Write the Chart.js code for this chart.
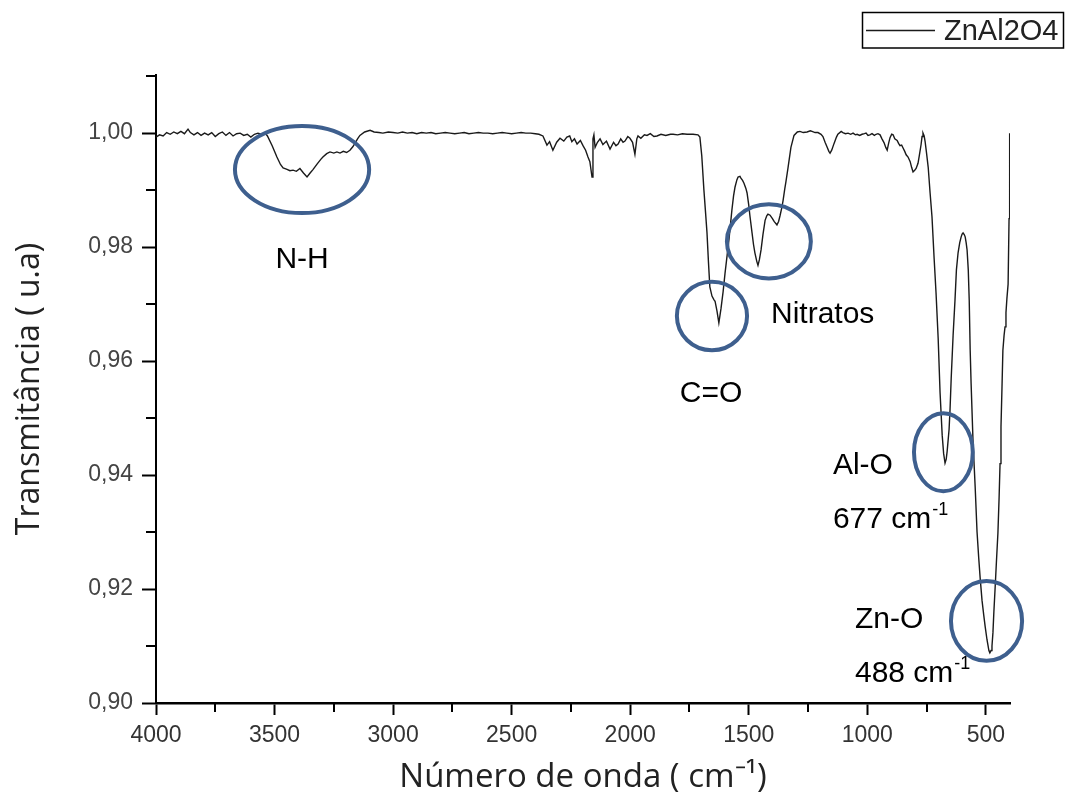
<!DOCTYPE html>
<html>
<head>
<meta charset="utf-8">
<script src="https://cdn.jsdelivr.net/npm/chart.js@4.4.1/dist/chart.umd.min.js"></script>
<style>
  html, body { margin: 0; padding: 0; background: #fff; }
  #wrap { width: 1068px; height: 798px; }
</style>
</head>
<body>
<div id="wrap"><canvas id="ftir" width="1068" height="798"></canvas></div>
<script>
// DATA
const seriesLabel = "ZnAl2O4";

const wavenumbers = [
  // baseline 4000-3540
  4000, 3985, 3970, 3955, 3940, 3925, 3910, 3895, 3880, 3865, 3855, 3840, 3825, 3810, 3795, 3780,
  3765, 3750, 3735, 3720, 3705, 3690, 3675, 3660, 3645, 3630, 3615, 3600, 3585, 3570, 3555, 3540,
  // N-H band
  3530, 3510, 3490, 3475, 3464, 3450, 3435, 3422, 3408, 3393, 3378, 3363, 3350, 3338, 3320, 3305,
  3296, 3280, 3266, 3250, 3237, 3224, 3210, 3196, 3182, 3170, 3161, 3150, 3140, 3120, 3097, 3080,
  3060, 3043,
  // flat region
  3020, 3000, 2980, 2960, 2940, 2920, 2900, 2880, 2860, 2840, 2820, 2800, 2780, 2760, 2740, 2720,
  2700, 2680, 2660, 2640, 2620, 2600, 2580, 2560, 2540, 2520, 2500, 2480, 2460, 2440, 2420, 2400,
  // CO2 / noise region
  2385, 2368, 2351, 2340, 2326, 2310, 2296, 2280, 2267, 2255, 2246, 2235, 2224, 2210, 2199, 2188,
  2178, 2170, 2161, 2157, 2153, 2148, 2138, 2127, 2115, 2100, 2085, 2070, 2060, 2051, 2040, 2030,
  2022, 2010, 2001, 1990, 1980, 1972, 1967, 1955, 1940, 1929, 1915, 1900, 1887, 1870, 1850, 1830,
  1819, 1800, 1780, 1760, 1735, 1714,
  // C=O and nitrates
  1706, 1698, 1689, 1682, 1676, 1670, 1664, 1655, 1647, 1642, 1634, 1626, 1617, 1608, 1600, 1591,
  1583, 1571, 1564, 1558, 1550, 1545, 1537, 1533, 1526, 1520, 1512, 1507, 1500, 1495, 1486, 1480,
  1474, 1466, 1461, 1455, 1448, 1440, 1431, 1424, 1419, 1410, 1400, 1393, 1381, 1374, 1368, 1360,
  1355, 1348, 1343, 1334, 1322, 1309, 1295, 1284, 1270, 1254, 1240, 1233, 1220, 1208, 1195, 1187,
  1178, 1170, 1162, 1157, 1150, 1140, 1130, 1124, 1110, 1103, 1092, 1081, 1070, 1060, 1050, 1043,
  1032, 1022, 1012, 1005, 997, 989, 980, 970, 963, 955, 946, 938, 929, 922, 916, 910,
  904, 897, 891, 884, 874, 868, 862, 855, 849, 842, 836, 828, 819, 813, 807, 800,
  794, 786, 780, 773, 769, 765, 760, 756, 750, 743, 735, 727,
  // Al-O and Zn-O bands
  718, 710, 701, 693, 684, 678, 672, 667, 663, 655, 651, 646, 638, 630, 624, 617,
  610, 604, 600, 596, 591, 587, 583, 579, 574, 570, 566, 562, 554, 545, 537, 530,
  524, 516, 509, 503, 495, 487, 483, 478, 474, 470, 466, 461, 455, 449, 444, 440,
  436, 432, 428, 423, 419, 415, 411, 406, 402, 400, 399
];

const transmittance = [
  0.9993, 0.9997, 0.9995, 1.0001, 0.9998, 1.0002, 0.9999, 1.0003, 0.9999, 1.0007, 1.0001, 0.9997, 1.0001, 0.9996, 1.0000, 0.9997,
  1.0001, 0.9994, 0.9999, 1.0002, 0.9996, 1.0001, 0.9995, 0.9999, 1.0000, 0.9996, 0.9998, 0.9993, 0.9998, 1.0000, 0.9998, 1.0000,

  0.9995, 0.9978, 0.9958, 0.9945, 0.9939, 0.9937, 0.9934, 0.9935, 0.9933, 0.9938, 0.9930, 0.9923, 0.9930, 0.9936, 0.9946, 0.9954,
  0.9958, 0.9964, 0.9967, 0.9965, 0.9967, 0.9965, 0.9968, 0.9966, 0.9970, 0.9976, 0.9982, 0.9990, 0.9996, 1.0002, 1.0005, 1.0002,
  1.0001, 1.0000,

  1.0002, 1.0001, 1.0000, 1.0002, 1.0000, 1.0001, 0.9999, 1.0001, 1.0000, 1.0001, 0.9999, 1.0000, 1.0001, 1.0000, 0.9999, 1.0000,
  1.0001, 0.9999, 1.0000, 1.0001, 1.0000, 1.0000, 0.9999, 1.0000, 1.0001, 1.0000, 0.9999, 1.0000, 1.0001, 1.0000, 1.0000, 0.9999,

  0.9998, 0.9995, 0.9979, 0.9985, 0.9970, 0.9984, 0.9991, 0.9986, 0.9993, 0.9995, 0.9985, 0.9990, 0.9981, 0.9987, 0.9978, 0.9970,
  0.9958, 0.9950, 0.9923, 0.9990, 0.9997, 0.9975, 0.9984, 0.9990, 0.9980, 0.9986, 0.9972, 0.9984, 0.9978, 0.9981, 0.9990, 0.9984,
  0.9986, 0.9994, 0.9991, 0.9984, 0.9963, 0.9990, 0.9995, 0.9991, 0.9997, 0.9996, 0.9999, 0.9994, 0.9995, 0.9998, 0.9996, 0.9998,
  0.9998, 0.9997, 0.9999, 0.9998, 0.9998, 0.9997,

  0.9993, 0.9960, 0.9900, 0.9860, 0.9825, 0.9775, 0.9730, 0.9714, 0.9708, 0.9705, 0.9688, 0.9667, 0.9692, 0.9722, 0.9754, 0.9786,
  0.9815, 0.9865, 0.9890, 0.9905, 0.9918, 0.9923, 0.9924, 0.9921, 0.9917, 0.9912, 0.9903, 0.9895, 0.9874, 0.9855, 0.9825, 0.9805,
  0.9790, 0.9775, 0.9768, 0.9778, 0.9795, 0.9822, 0.9847, 0.9855, 0.9858, 0.9856, 0.9850, 0.9845, 0.9839, 0.9845, 0.9855, 0.9870,
  0.9882, 0.9902, 0.9915, 0.9940, 0.9975, 0.9996, 1.0002, 1.0003, 1.0001, 1.0002, 1.0004, 1.0003, 1.0001, 1.0001, 0.9998, 0.9994,
  0.9984, 0.9976, 0.9968, 0.9965, 0.9970, 0.9982, 0.9993, 0.9998, 1.0003, 1.0001, 0.9999, 1.0000, 0.9998, 1.0000, 0.9997, 0.9998,
  0.9996, 0.9998, 0.9999, 1.0000, 0.9996, 0.9997, 0.9999, 0.9996, 0.9998, 0.9999, 0.9997, 0.9990, 0.9983, 0.9975, 0.9970, 0.9982,
  0.9992, 0.9998, 0.9997, 0.9990, 0.9987, 0.9982, 0.9978, 0.9979, 0.9974, 0.9968, 0.9962, 0.9958, 0.9950, 0.9940, 0.9932, 0.9935,
  0.9938, 0.9947, 0.9962, 0.9980, 0.9994, 1.0000, 0.9995, 0.9985, 0.9965, 0.9940, 0.9895, 0.9853,

  0.9780, 0.9720, 0.9640, 0.9545, 0.9470, 0.9438, 0.9421, 0.9428, 0.9442, 0.9480, 0.9514, 0.9570, 0.9645, 0.9707, 0.9760, 0.9790,
  0.9808, 0.9818, 0.9823, 0.9825, 0.9822, 0.9818, 0.9808, 0.9795, 0.9760, 0.9707, 0.9620, 0.9560, 0.9460, 0.9380, 0.9300, 0.9255,
  0.9220, 0.9180, 0.9155, 0.9135, 0.9111, 0.9092, 0.9088, 0.9092, 0.9100, 0.9123, 0.9160, 0.9200, 0.9250, 0.9298, 0.9360, 0.9420,
  0.9485, 0.9550, 0.9619, 0.9645, 0.9660, 0.9685, 0.9710, 0.9735, 0.9850, 0.9950, 1.0000
];

const xTicks = [4000, 3500, 3000, 2500, 2000, 1500, 1000, 500];
const xMinorTicks = [3750, 3250, 2750, 2250, 1750, 1250, 750];
const yTicks = [0.90, 0.92, 0.94, 0.96, 0.98, 1.00];
const yMinorTicks = [0.91, 0.93, 0.95, 0.97, 0.99, 1.01];

// circled bands (centre and half-size, in axis units)
const bandCircles = [
  { x: 3384, y: 0.9936, dx: 283, dy: 0.00763 },
  { x: 1655, y: 0.9679, dx: 148, dy: 0.00600 },
  { x: 1415, y: 0.9810, dx: 177, dy: 0.00650 },
  { x: 679, y: 0.9440, dx: 124, dy: 0.00685 },
  { x: 497, y: 0.9144, dx: 150, dy: 0.00700 },
];

const bandLabels = [
  { text: "N-H", x: 3384, y: 0.97632, align: "center" },
  { text: "C=O", x: 1659, y: 0.95281, align: "center" },
  { text: "Nitratos", x: 1406, y: 0.96667, align: "left" },
  { text: "Al-O", x: 1145, y: 0.94018, align: "left" },
  { text: "677 cm", sup: "-1", x: 1145, y: 0.9307, align: "left" },
  { text: "Zn-O", x: 1052, y: 0.91316, align: "left" },
  { text: "488 cm", sup: "-1", x: 1052, y: 0.90368, align: "left" },
];

// PLUGINS
const minorTicks = {
  id: "minorTicks",
  afterDraw(chart) {
    const { ctx, chartArea, scales } = chart;
    ctx.save();
    ctx.strokeStyle = "#000";
    ctx.lineWidth = 2;
    yMinorTicks.forEach((v) => {
      const py = Math.round(scales.y.getPixelForValue(v));
      ctx.beginPath();
      ctx.moveTo(chartArea.left - 10, py);
      ctx.lineTo(chartArea.left, py);
      ctx.stroke();
    });
    xMinorTicks.forEach((v) => {
      const px = Math.round(scales.x.getPixelForValue(v));
      ctx.beginPath();
      ctx.moveTo(px, chartArea.bottom);
      ctx.lineTo(px, chartArea.bottom + 9);
      ctx.stroke();
    });
    ctx.restore();
  },
};

const bandMarks = {
  id: "bandMarks",
  afterDatasetsDraw(chart) {
    const { ctx, scales: { x, y } } = chart;
    ctx.save();
    ctx.strokeStyle = "#3e5f8e";
    ctx.lineWidth = 4;
    bandCircles.forEach((c) => {
      const cx = x.getPixelForValue(c.x);
      const cy = y.getPixelForValue(c.y);
      const rx = Math.abs(x.getPixelForValue(c.x + c.dx) - cx);
      const ry = Math.abs(y.getPixelForValue(c.y + c.dy) - cy);
      ctx.beginPath();
      ctx.ellipse(cx, cy, rx, ry, 0, 0, 2 * Math.PI);
      ctx.stroke();
    });

    ctx.fillStyle = "#000";
    ctx.textBaseline = "alphabetic";
    bandLabels.forEach((l) => {
      ctx.font = "30px 'Liberation Sans', Arial, sans-serif";
      const w = ctx.measureText(l.text).width;
      let px = x.getPixelForValue(l.x);
      const py = y.getPixelForValue(l.y);
      if (l.align === "center") px -= w / 2;
      ctx.textAlign = "left";
      ctx.fillText(l.text, px, py);
      if (l.sup) {
        ctx.font = "18px 'Liberation Sans', Arial, sans-serif";
        ctx.fillText(l.sup, px + w + 1, py - 13);
      }
    });
    ctx.restore();
  },
};

const boxedLegend = {
  id: "boxedLegend",
  afterDraw(chart) {
    const { ctx } = chart;
    ctx.save();
    ctx.strokeStyle = "#000";
    ctx.lineWidth = 1.5;
    ctx.strokeRect(862.5, 12.5, 201, 35.5);
    ctx.lineWidth = 1.3;
    ctx.strokeStyle = "#1a1a1a";
    ctx.beginPath();
    ctx.moveTo(866, 30.5);
    ctx.lineTo(935, 30.5);
    ctx.stroke();
    ctx.fillStyle = "#222";
    ctx.font = "29px 'Liberation Sans', Arial, sans-serif";
    ctx.textAlign = "left";
    ctx.textBaseline = "alphabetic";
    ctx.fillText(seriesLabel, 944, 40);
    ctx.restore();
  },
};

// CHART
const points = wavenumbers.map((w, i) => ({ x: w, y: transmittance[i] }));

const config = {
  type: "line",
  data: {
    datasets: [
      {
        label: seriesLabel,
        data: points,
        borderColor: "#1a1a1a",
        borderWidth: 1.4,
        pointRadius: 0,
        tension: 0,
      },
    ],
  },
  options: {
    responsive: false,
    animation: false,
    layout: { padding: { top: 75, right: 58, left: 0, bottom: 0 } },
    plugins: {
      legend: { display: false },
      tooltip: { enabled: false },
    },
    scales: {
      x: {
        type: "linear",
        reverse: true,
        min: 398,
        max: 4000,
        afterBuildTicks: (scale) => {
          scale.ticks = xTicks.map((v) => ({ value: v }));
        },
        afterFit: (scale) => {
          scale.height = 95;
        },
        border: { display: true, color: "#000", width: 2.5 },
        grid: { drawOnChartArea: false, drawTicks: true, tickLength: 12, tickWidth: 2, tickColor: "#000" },
        ticks: {
          autoSkip: false,
          maxRotation: 0,
          padding: 7,
          color: "#333",
          font: { family: "'Liberation Sans', Arial, sans-serif", size: 23 },
          callback: (v) => String(v),
        },
        title: {
          display: true,
          text: "Número de onda ( cm⁻¹)",
          color: "#222",
          font: { family: "'Open Sans', sans-serif", size: 33 },
          padding: { top: 0, bottom: 1 },
        },
      },
      y: {
        type: "linear",
        min: 0.9,
        max: 1.0102,
        afterBuildTicks: (scale) => {
          scale.ticks = yTicks.map((v) => ({ value: v }));
        },
        afterFit: (scale) => {
          scale.width = 156;
        },
        border: { display: true, color: "#000", width: 2 },
        grid: { drawOnChartArea: false, drawTicks: true, tickLength: 14, tickWidth: 2, tickColor: "#000" },
        ticks: {
          autoSkip: false,
          padding: 9,
          color: "#444",
          font: { family: "'Liberation Sans', Arial, sans-serif", size: 23 },
          callback: (v) => v.toFixed(2).replace(".", ","),
        },
        title: {
          display: true,
          text: "Transmitância ( u.a)",
          color: "#222",
          font: { family: "'Open Sans', sans-serif", size: 32 },
          padding: { top: 11, bottom: 0 },
        },
      },
    },
  },
  plugins: [minorTicks, bandMarks, boxedLegend],
};

new Chart(document.getElementById("ftir"), config);
</script>
</body>
</html>
